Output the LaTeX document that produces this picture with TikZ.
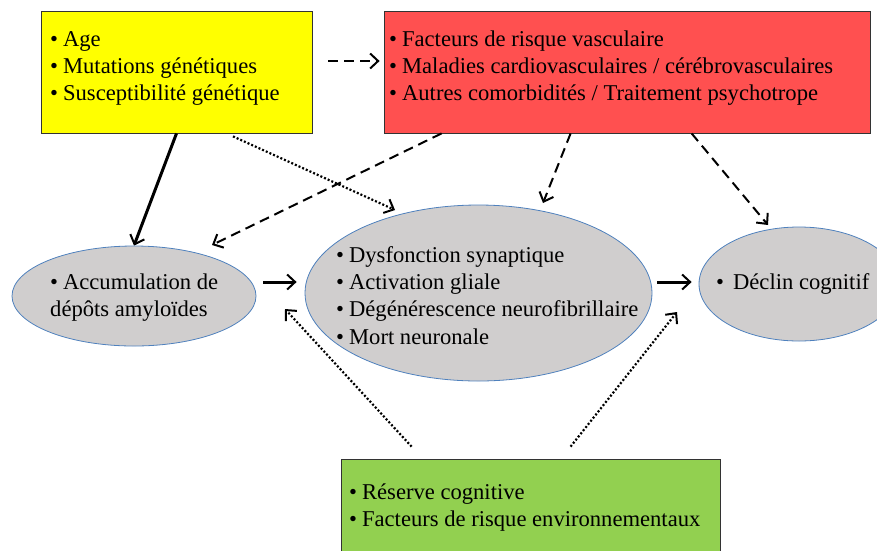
\documentclass[tikz,border=0pt]{standalone}
\usepackage{fontspec}
\setmainfont{Liberation Serif}
\newfontfamily\tnr{Liberation Serif}
\usetikzlibrary{shapes.geometric,arrows.meta}
\definecolor{ybox}{HTML}{FFFF00}
\definecolor{rbox}{HTML}{FF5050}
\definecolor{gbox}{HTML}{92D050}
\definecolor{efill}{HTML}{D0CECE}
\definecolor{eline}{HTML}{4F81BD}
\newcommand\mybul{•\hspace{5pt}}
\begin{document}
\begin{tikzpicture}[x=1pt,y=-1pt,
  box/.style={draw=black!80, line width=0.8pt, rectangle, inner sep=0pt},
  oval/.style={ellipse, draw=eline, line width=0.8pt, fill=efill, inner sep=0pt},
  txt/.style={anchor=north west, inner sep=0pt, align=left, font=\tnr\fontsize{22.6}{27.3}\selectfont},
  tip/.style={-{Straight Barb[length=8pt,width=15pt,line width=2pt]}},
  solidarrow/.style={tip, line width=3pt},
  dasharrow/.style={tip, line width=2pt, dash pattern=on 10pt off 6pt},
  dotarrow/.style={tip, line width=2.2pt, dash pattern=on 2pt off 2pt}]
\useasboundingbox (0,0) rectangle (877,550);
\begin{scope}
\clip (0,0) rectangle (877,550);
% shapes
\node[box, fill=ybox, minimum width=271pt, minimum height=122pt] (yellow) at (176.5,72) {};
\node[box, fill=rbox, minimum width=486pt, minimum height=122pt] (red) at (627,72) {};
\node[oval, minimum width=244pt, minimum height=100pt] (e1) at (134,296) {};
\node[oval, minimum width=347pt, minimum height=176pt] (e2) at (478.5,293) {};
\node[oval, minimum width=200pt, minimum height=114pt] (e3) at (799,284) {};
\node[box, fill=gbox, minimum width=379pt, minimum height=102pt] (green) at (530.5,510) {};
% texts
\node[txt] (tyellow) at (50,27) {\strut\mybul Age\\\mybul Mutations génétiques\\\mybul Susceptibilité  génétique};
\node[txt] (tred) at (389,27) {\strut\mybul Facteurs de risque vasculaire\\\mybul Maladies cardiovasculaires / cérébrovasculaires\\\mybul Autres comorbidités / Traitement psychotrope};
\node[txt] (te1) at (50,270) {\strut\mybul Accumulation de\\dépôts amyloïdes};
\node[txt] (te2) at (336,243) {\strut\mybul Dysfonction synaptique\\\mybul Activation gliale\\\mybul Dégénérescence neurofibrillaire\\\mybul Mort neuronale};
\node[txt] (te3) at (716,270) {\strut•\hspace{9pt}Déclin cognitif};
\node[txt] (tgreen) at (349,480) {\strut\mybul Réserve cognitive\\\mybul Facteurs de risque environnementaux};
\end{scope}
% connectors
\draw[solidarrow] (yellow.south) -- (e1.north);
\draw[dasharrow] ([xshift=16pt,yshift=11pt]yellow.east) -- ([xshift=-4pt,yshift=11pt]red.west);
\draw[dotarrow] ([xshift=56.5pt,yshift=-3pt]yellow.south) -- ([xshift=-83.5pt,yshift=83pt]e2.center);
\draw[dasharrow] ([xshift=58pt]red.south west) -- ([xshift=78pt,yshift=51pt]e1.center);
\draw[dasharrow] ([xshift=187pt]red.south west) -- ([xshift=64.5pt,yshift=90pt]e2.center);
\draw[dasharrow] ([xshift=308pt]red.south west) -- ([xshift=-31pt,yshift=59pt]e3.center);
\draw[solidarrow] ([xshift=7pt,yshift=14pt]e1.east) -- ([xshift=-8pt,yshift=11pt]e2.west);
\draw[solidarrow] ([xshift=5pt,yshift=11pt]e2.east) -- ([xshift=-7pt,yshift=2pt]e3.west);
\draw[dotarrow] ([xshift=71pt,yshift=12pt]green.north west) -- ([xshift=-193.5pt,yshift=-16pt]e2.center);
\draw[dotarrow] ([xshift=230pt,yshift=12pt]green.north west) -- ([xshift=-122pt,yshift=-28pt]e3.center);
\end{tikzpicture}
\end{document}
